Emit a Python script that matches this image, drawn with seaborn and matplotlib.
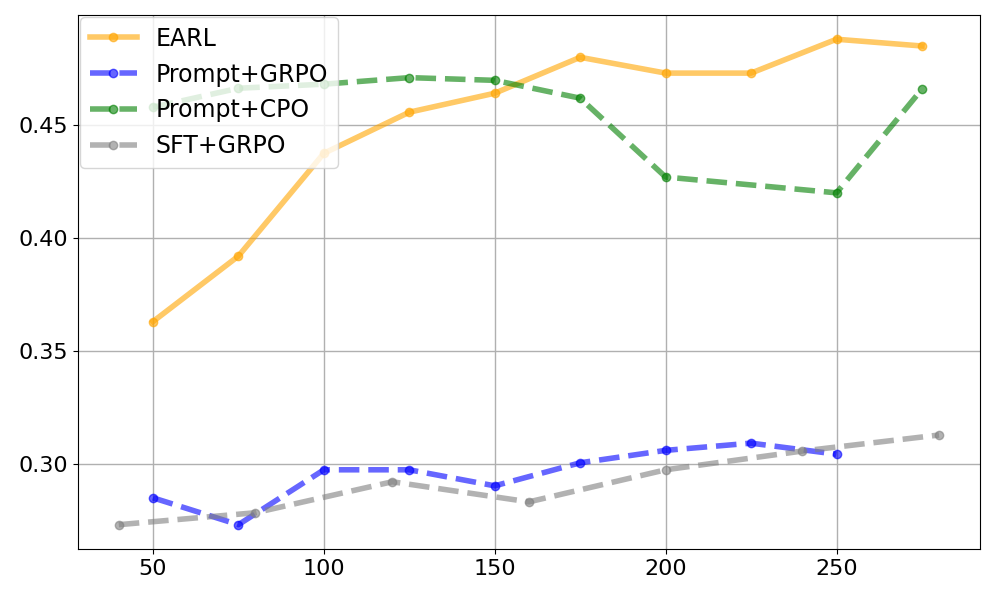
import matplotlib
matplotlib.use("Agg")
import matplotlib.pyplot as plt
import seaborn as sns
import pandas as pd

# steps / scores per method
earl_x = [50, 75, 100, 125, 150, 175, 200, 225, 250, 275]
earl_y = [0.363, 0.392, 0.4375, 0.4557, 0.4641, 0.480, 0.473, 0.473, 0.488, 0.485]

grpo_x = [50, 75, 100, 125, 150, 175, 200, 225, 250]
grpo_y = [0.285, 0.2731, 0.2974, 0.2974, 0.2903, 0.3005, 0.306, 0.3092, 0.3043]

cpo_x = [50, 75, 100, 125, 150, 175, 200, 250, 275]
cpo_y = [0.4579, 0.4663, 0.4681, 0.4710, 0.4698, 0.4619, 0.427, 0.420, 0.4659]

sft_x = [40, 80, 120, 160, 200, 240, 280]
sft_y = [0.2731, 0.2784, 0.2921, 0.2832, 0.2974, 0.3057, 0.3128]

series = [
    ("EARL", earl_x, earl_y, "orange", "-"),
    ("Prompt+GRPO", grpo_x, grpo_y, "blue", "--"),
    ("Prompt+CPO", cpo_x, cpo_y, "green", "--"),
    ("SFT+GRPO", sft_x, sft_y, "gray", "--"),
]

fig, ax = plt.subplots(figsize=(9.97, 5.98), dpi=100)

for name, xs, ys, color, ls in series:
    df = pd.DataFrame({"step": xs, "score": ys})
    sns.lineplot(data=df, x="step", y="score", ax=ax, label=name,
                 color=color, linestyle=ls, linewidth=4, alpha=0.6,
                 marker="o", markersize=6, markeredgecolor=color,
                 markeredgewidth=1)

ax.grid(True, color="#b0b0b0", linewidth=1)
ax.set_xlabel("")
ax.set_ylabel("")
ax.tick_params(labelsize=16)
ax.legend(loc="upper left", fontsize=17, borderaxespad=0.1)

plt.subplots_adjust(left=0.078, right=0.983, top=0.975, bottom=0.082)
plt.savefig("out.png", dpi=100)
